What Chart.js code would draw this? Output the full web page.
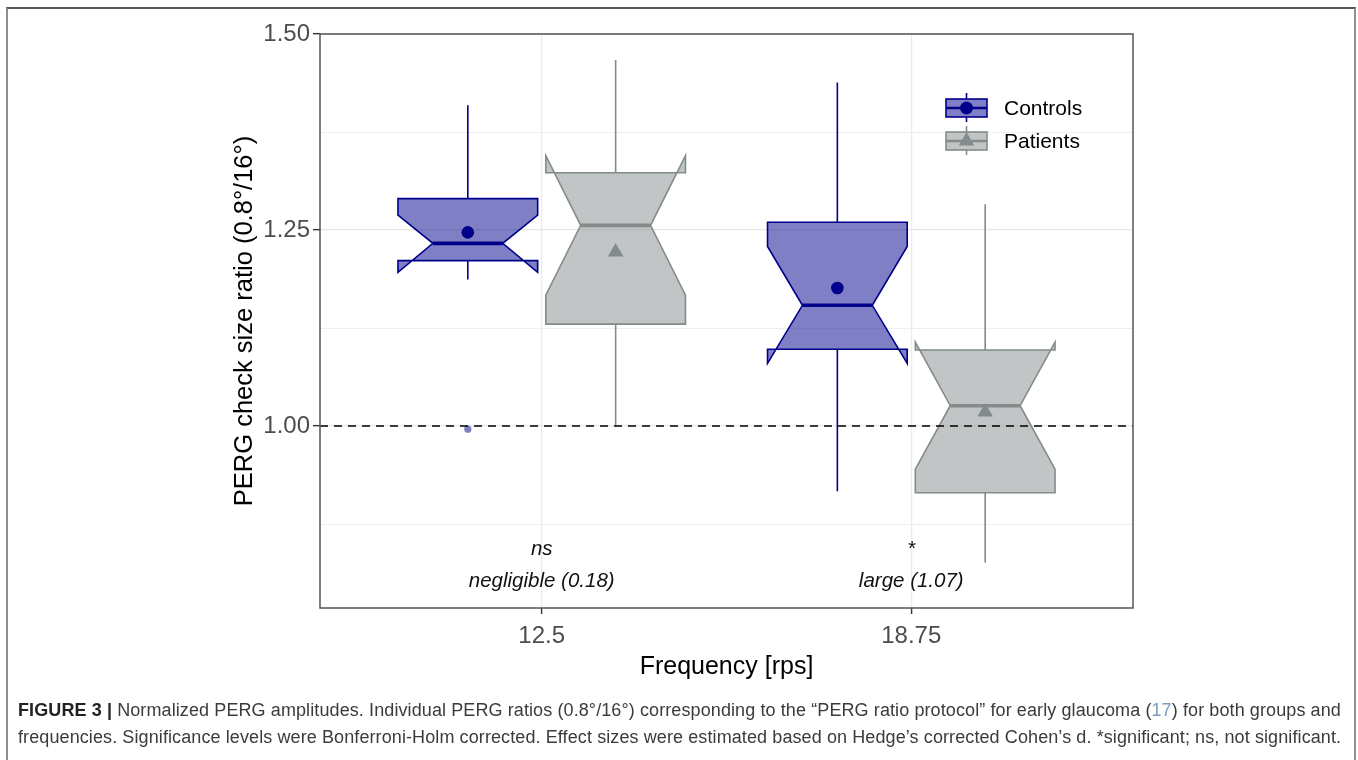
<!DOCTYPE html>
<html>
<head>
<meta charset="utf-8">
<title>PERG ratio by frequency</title>
<script src="https://cdn.jsdelivr.net/npm/chart.js@4.4.1/dist/chart.umd.min.js"></script>
<style>
  html, body { margin: 0; padding: 0; background: #fff; width: 1358px; height: 760px; overflow: hidden; }
  #frame { position: absolute; left: 6px; top: 7px; width: 1350px; height: 800px; box-sizing: border-box;
           border: 2px solid #8e8e8e; border-top-color: #555; }
  #plot { position: absolute; left: 0; top: 0; }
  #caption { position: absolute; left: 18px; top: 697px; font-family: 'Liberation Sans', Arial, sans-serif;
             font-size: 18px; letter-spacing: 0.1px; line-height: 27px; color: #3b3b3b; white-space: nowrap; }
  #caption b { color: #222; }
  #caption .ref { color: #7b9cbf; }
</style>
</head>
<body>
<div id="frame"></div>
<canvas id="plot" width="1358" height="760"></canvas>
<div id="caption"><b>FIGURE 3 |</b> Normalized PERG amplitudes. Individual PERG ratios (0.8°/16°) corresponding to the “PERG ratio protocol” for early glaucoma (<span class="ref">17</span>) for both groups and<br>frequencies. Significance levels were Bonferroni-Holm corrected. Effect sizes were estimated based on Hedge’s corrected Cohen’s d. *significant; ns, not significant.</div>
<script>
// ---- data -------------------------------------------------------------
const frequencies = ['12.5', '18.75'];
const groups = ['Controls', 'Patients'];

// notched boxplot summaries, one value per frequency
const controlsWhiskerLow  = [1.187, 0.917];
const controlsQ1          = [1.211, 1.098];
const controlsNotchLow    = [1.196, 1.080];
const controlsMedian      = [1.233, 1.154];
const controlsNotchHigh   = [1.269, 1.229];
const controlsQ3          = [1.290, 1.260];
const controlsWhiskerHigh = [1.409, 1.438];
const controlsMean        = [1.247, 1.176];
const controlsOutliers    = [[0.996], []];

const patientsWhiskerLow  = [1.001, 0.826];
const patientsQ1          = [1.130, 0.915];
const patientsNotchLow    = [1.167, 0.945];
const patientsMedian      = [1.256, 1.026];
const patientsNotchHigh   = [1.345, 1.107];
const patientsQ3          = [1.323, 1.097];
const patientsWhiskerHigh = [1.467, 1.283];
const patientsMean        = [1.222, 1.018];
const patientsOutliers    = [[], []];

const significanceLabels = ['ns', '*'];
const effectSizeLabels   = ['negligible (0.18)', 'large (1.07)'];

const referenceRatio = 1.0;
const yMajorTicks  = [1.00, 1.25, 1.50];
const yMinorTicks  = [0.875, 1.125, 1.375];
const yTickLabels  = ['1.00', '1.25', '1.50'];

// ---- layout / styling -------------------------------------------------
const X_MIN = 0.4, X_MAX = 2.6;       // discrete axis with 0.6 expansion each side
const Y_MIN = 0.768, Y_MAX = 1.5;
const DODGE = 0.2, HALF_BOX = 0.189;
const FONT = "'Liberation Sans', Arial, sans-serif";

const summaries = {
  Controls: { lo: controlsWhiskerLow, q1: controlsQ1, nlo: controlsNotchLow, med: controlsMedian,
              nhi: controlsNotchHigh, q3: controlsQ3, hi: controlsWhiskerHigh, mean: controlsMean, out: controlsOutliers },
  Patients: { lo: patientsWhiskerLow, q1: patientsQ1, nlo: patientsNotchLow, med: patientsMedian,
              nhi: patientsNotchHigh, q3: patientsQ3, hi: patientsWhiskerHigh, mean: patientsMean, out: patientsOutliers }
};
const styles = {
  Controls: { offset: -DODGE, stroke: '#00008B', fill: 'rgba(0,0,139,0.5)', point: 'circle', radius: 6.3,
              outlier: 'rgba(0,0,139,0.5)' },
  Patients: { offset: DODGE, stroke: '#838B8B', fill: 'rgba(131,139,139,0.5)', point: 'triangle', radius: 9,
              outlier: 'rgba(131,139,139,0.5)' }
};

// notched boxes + whiskers, drawn underneath the point datasets
const notchedBoxes = {
  id: 'notchedBoxes',
  beforeDatasetsDraw(chart) {
    const { ctx, scales: { x, y } } = chart;
    ctx.save();
    groups.forEach(g => {
      const s = summaries[g], st = styles[g];
      frequencies.forEach((f, i) => {
        const c = i + 1 + st.offset;
        const xc = x.getPixelForValue(c);
        const xl = x.getPixelForValue(c - HALF_BOX);
        const xr = x.getPixelForValue(c + HALF_BOX);
        const ni = (xr - xl) * 0.25;
        const py = v => y.getPixelForValue(v);

        ctx.strokeStyle = st.stroke;
        ctx.lineWidth = 1.6;
        ctx.lineCap = 'butt';
        // whiskers
        ctx.beginPath();
        ctx.moveTo(xc, py(s.q3[i])); ctx.lineTo(xc, py(s.hi[i]));
        ctx.moveTo(xc, py(s.q1[i])); ctx.lineTo(xc, py(s.lo[i]));
        ctx.stroke();

        // notched box outline
        ctx.beginPath();
        ctx.moveTo(xl, py(s.q3[i]));
        ctx.lineTo(xl, py(s.nhi[i]));
        ctx.lineTo(xl + ni, py(s.med[i]));
        ctx.lineTo(xl, py(s.nlo[i]));
        ctx.lineTo(xl, py(s.q1[i]));
        ctx.lineTo(xr, py(s.q1[i]));
        ctx.lineTo(xr, py(s.nlo[i]));
        ctx.lineTo(xr - ni, py(s.med[i]));
        ctx.lineTo(xr, py(s.nhi[i]));
        ctx.lineTo(xr, py(s.q3[i]));
        ctx.closePath();
        ctx.fillStyle = st.fill;
        ctx.fill();
        ctx.lineJoin = 'miter';
        ctx.stroke();

        // median
        ctx.beginPath();
        ctx.lineWidth = 3.6;
        ctx.moveTo(xl + ni, py(s.med[i]));
        ctx.lineTo(xr - ni, py(s.med[i]));
        ctx.stroke();
      });
    });
    ctx.restore();
  },
  afterDatasetsDraw(chart) {
    const { ctx, scales: { x, y } } = chart;
    ctx.save();
    ctx.fillStyle = '#111';
    ctx.textAlign = 'center';
    ctx.textBaseline = 'alphabetic';
    ctx.font = 'italic 20.5px ' + FONT;
    frequencies.forEach((f, i) => {
      const xp = x.getPixelForValue(i + 1);
      ctx.fillText(significanceLabels[i], xp, y.getPixelForValue(0.835));
      ctx.fillText(effectSizeLabels[i], xp, y.getPixelForValue(0.795));
    });
    ctx.restore();
  },
  afterDraw(chart) {
    const { ctx, chartArea: a } = chart;
    ctx.save();
    // panel border
    ctx.strokeStyle = '#555';
    ctx.lineWidth = 1.5;
    ctx.strokeRect(a.left, a.top, a.right - a.left, a.bottom - a.top);

    // legend with boxplot keys
    const keyL = a.right - 187, keyW = 41;
    const rows = [a.top + 74, a.top + 107];
    groups.forEach((g, k) => {
      const st = styles[g], cy = rows[k];
      ctx.fillStyle = '#fff';
      ctx.fillRect(keyL - 1, cy - 16, keyW + 2, 32);
      ctx.strokeStyle = st.stroke;
      ctx.lineWidth = 1.6;
      ctx.beginPath();
      ctx.moveTo(keyL + keyW / 2, cy - 15); ctx.lineTo(keyL + keyW / 2, cy - 9);
      ctx.moveTo(keyL + keyW / 2, cy + 9); ctx.lineTo(keyL + keyW / 2, cy + 14);
      ctx.stroke();
      ctx.fillStyle = st.fill;
      ctx.fillRect(keyL, cy - 9, keyW, 18);
      ctx.strokeRect(keyL, cy - 9, keyW, 18);
      ctx.beginPath();
      ctx.lineWidth = 2.5;
      ctx.moveTo(keyL, cy); ctx.lineTo(keyL + keyW, cy);
      ctx.stroke();
      ctx.fillStyle = st.stroke;
      ctx.beginPath();
      if (st.point === 'circle') {
        ctx.arc(keyL + keyW / 2, cy, 6.5, 0, Math.PI * 2);
      } else {
        const r = 9, cx = keyL + keyW / 2;
        ctx.moveTo(cx, cy - r);
        ctx.lineTo(cx + r * 0.866, cy + r / 2);
        ctx.lineTo(cx - r * 0.866, cy + r / 2);
        ctx.closePath();
      }
      ctx.fill();

      ctx.fillStyle = '#000';
      ctx.font = '21px ' + FONT;
      ctx.textAlign = 'left';
      ctx.textBaseline = 'middle';
      ctx.fillText(g, a.right - 129, cy + 1);
    });
    ctx.restore();
  }
};

const meanSets = groups.map(g => ({
  label: g + ' mean',
  data: summaries[g].mean.map((v, i) => ({ x: i + 1 + styles[g].offset, y: v })),
  pointStyle: styles[g].point,
  pointRadius: styles[g].radius,
  pointBackgroundColor: styles[g].stroke,
  pointBorderWidth: 0,
  showLine: false,
  order: 1
}));
const outlierSets = groups.map(g => ({
  label: g + ' outliers',
  data: summaries[g].out.flatMap((vals, i) => vals.map(v => ({ x: i + 1 + styles[g].offset, y: v }))),
  pointStyle: 'circle',
  pointRadius: 3.6,
  pointBackgroundColor: styles[g].outlier,
  pointBorderWidth: 0,
  showLine: false,
  order: 2
}));

const isMajor = v => yMajorTicks.some(m => Math.abs(m - v) < 1e-6);

Chart.defaults.font.family = FONT;

new Chart(document.getElementById('plot'), {
  type: 'scatter',
  data: {
    datasets: [
      {
        label: 'reference',
        data: [{ x: X_MIN, y: referenceRatio }, { x: X_MAX, y: referenceRatio }],
        showLine: true,
        borderColor: '#000',
        borderWidth: 1.5,
        borderDash: [8, 6],
        pointRadius: 0,
        order: 0
      },
      ...outlierSets,
      ...meanSets
    ]
  },
  options: {
    responsive: false,
    animation: false,
    events: [],
    layout: { padding: { left: 220, top: 34, right: 225, bottom: 72 } },
    plugins: { legend: { display: false }, tooltip: { enabled: false } },
    scales: {
      x: {
        type: 'linear',
        min: X_MIN, max: X_MAX,
        afterBuildTicks: s => { s.ticks = frequencies.map((f, i) => ({ value: i + 1 })); },
        afterFit: s => { s.height = 80; },
        ticks: {
          callback: (v) => frequencies[Math.round(v) - 1] ?? '',
          font: { size: 24 }, color: '#4d4d4d', padding: 8, maxRotation: 0, autoSkip: false
        },
        grid: { color: '#ebebeb', lineWidth: 1.2, tickLength: 6, tickColor: '#333', tickWidth: 1.4 },
        border: { display: false },
        title: { display: true, text: 'Frequency [rps]', font: { size: 25 }, color: '#000',
                 padding: { top: 0, bottom: 6 } }
      },
      y: {
        type: 'linear',
        min: Y_MIN, max: Y_MAX,
        afterBuildTicks: s => {
          s.ticks = [...yMinorTicks, ...yMajorTicks].sort((a, b) => a - b).map(v => ({ value: v }));
        },
        afterFit: s => { s.width = 100; },
        ticks: {
          callback: (v) => { const k = yMajorTicks.findIndex(m => Math.abs(m - v) < 1e-6); return k < 0 ? '' : yTickLabels[k]; },
          font: { size: 24 }, color: '#4d4d4d', padding: 3, autoSkip: false
        },
        grid: {
          color: c => isMajor(c.tick.value) ? '#e6e6e6' : '#efefef',
          lineWidth: c => isMajor(c.tick.value) ? 1.3 : 1,
          tickLength: 7,
          tickColor: c => isMajor(c.tick.value) ? '#333' : 'rgba(0,0,0,0)',
          tickWidth: 1.4
        },
        border: { display: false },
        title: { display: true, text: 'PERG check size ratio (0.8°/16°)', font: { size: 25.5 }, color: '#000',
                 padding: { top: 10, bottom: 0 } }
      }
    }
  },
  plugins: [notchedBoxes]
});
</script>
</body>
</html>
